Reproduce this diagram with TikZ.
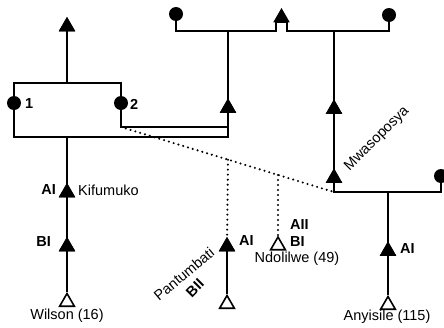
\documentclass[tikz,border=0pt]{standalone}
\usepackage{fontspec}
\setmainfont{Liberation Sans}
\usetikzlibrary{shapes.geometric,calc}
\begin{document}
\begin{tikzpicture}[x=1pt,y=-1pt,
  ln/.style={line width=2pt},
  dotln/.style={line width=2.3pt, line cap=round, dash pattern=on 0pt off 5pt},
  ftri/.style={regular polygon, regular polygon sides=3, fill=black, minimum size=19pt, inner sep=0pt, outer sep=0pt},
  otri/.style={regular polygon, regular polygon sides=3, draw, line width=1.6pt, fill=white, minimum size=17pt, inner sep=0pt},
  circ/.style={circle, fill=black, minimum size=14pt, inner sep=0pt},
  lbl/.style={font=\fontsize{14.5}{16}\selectfont, inner sep=0pt},
  blbl/.style={font=\bfseries\fontsize{14.5}{16}\selectfont, inner sep=0pt}]
\useasboundingbox (0,0) rectangle (444,327);
% left box
\coordinate (bTL) at (14,83);
\coordinate (bTR) at (121,83);
\coordinate (bBL) at (14,137);
\coordinate (bTM) at (67,83);
\coordinate (bBM) at (67,137);
\coordinate (iC) at (121,127);
\coordinate (iR) at (228,127);
\coordinate (bBR) at (228,137);
\coordinate (tJ) at (228,31);
\node[circ] (c1) at (14,103) {};
\node[circ] (c2) at (121,103) {};
\node[blbl, anchor=west] (n1) at (25,104) {1};
\node[blbl, anchor=west] (n2) at (130,104) {2};
\node[ftri] (tA) at (228,108) {};
\node[ftri] (upA) at (67,26.5) {};
\node[ftri] (k1) at (67,192.5) {};
\node[ftri] (k2) at (67,246.5) {};
\node[otri] (wil) at (67,302) {};
% top bar
\node[circ] (ctl) at (176,14) {};
\coordinate (tL) at (176,31);
\coordinate (nL) at (276,31);
\coordinate (nLt) at (276,22);
\coordinate (nRt) at (287,22);
\coordinate (nR) at (287,31);
\coordinate (tR) at (389,31);
\node[circ] (ctr) at (389,15) {};
\coordinate (mJ) at (334,31);
\node[ftri] (m1) at (334,109) {};
\node[ftri] (m2) at (334,178) {};
\coordinate (mB) at (334,192);
\coordinate (rB) at (441,192);
\node[circ] (cr) at (441,176) {};
\coordinate (aJ) at (388,192);
\node[ftri] (a1) at (388,251) {};
\node[otri] (a2) at (388,305) {};
% dotted points
\coordinate (p1) at ($(iC)!{107/213}!(mB)$);
\coordinate (p2) at ($(iC)!{157/213}!(mB)$);
\node[ftri] (pA) at (227,246.5) {};
\node[otri] (pB) at (227,304) {};
\node[otri] (nA) at (278,245.5) {};
% lines
\draw[ln] (c1) -- (bTL) -- (bTR) -- (c2);
\draw[ln] (c1) -- (bBL) -- (bBR) -- (iR) -- (iC) -- (c2);
\draw[ln] (bTM) -- (upA.center);
\draw[ln] (bBM) -- (k1.center) -- (k2.center) -- (wil);
\draw[ln] (bBR) -- (tA.center) -- (tJ);
\draw[ln] (ctl) -- (tL) -- (nL) -- (nLt) -- (nRt) -- (nR) -- (tR) -- (ctr);
\draw[ln] (mJ) -- (m1.center) -- (m2.center) -- (mB) -- (rB) -- (cr);
\draw[ln] (aJ) -- (a1.center) -- (a2);
\draw[dotln] (iC) -- (mB);
\draw[dotln] (p1) -- (pA);
\draw[ln] (pA.center) -- (pB);
\draw[dotln] (p2) -- (nA);
% redraw triangles on top
\foreach \t in {tA,upA,k1,k2,m1,m2,a1,pA} {\node[ftri] at (\t) {};}
\node[ftri] (topA) at (281.5,17.5) {};
% labels
\node[blbl, anchor=east] (lk1) at (56,190) {AI};
\node[lbl, anchor=west] (lk) at (78,190) {Kifumuko};
\node[blbl, anchor=east] (lk2) at (51,242) {BI};
\node[lbl] (lw) at (67,316) {Wilson (16)};
\node[blbl, anchor=west] (lp) at (239,241) {AI};
\node[lbl, rotate=40] (lpn) at (184,274) {Pantumbati};
\node[blbl, rotate=45] (lpb) at (195,288) {BII};
\node[blbl, anchor=west] (ln1) at (290,225) {AII};
\node[blbl, anchor=west] (ln2) at (290,242) {BI};
\node[lbl] (lnd) at (297,259) {Ndolilwe (49)};
\node[lbl, rotate=45] (lm) at (377,139) {Mwasoposya};
\node[blbl, anchor=west] (la) at (400,249) {AI};
\node[lbl] (lan) at (387,317) {Anyisile (115)};
\end{tikzpicture}
\end{document}
